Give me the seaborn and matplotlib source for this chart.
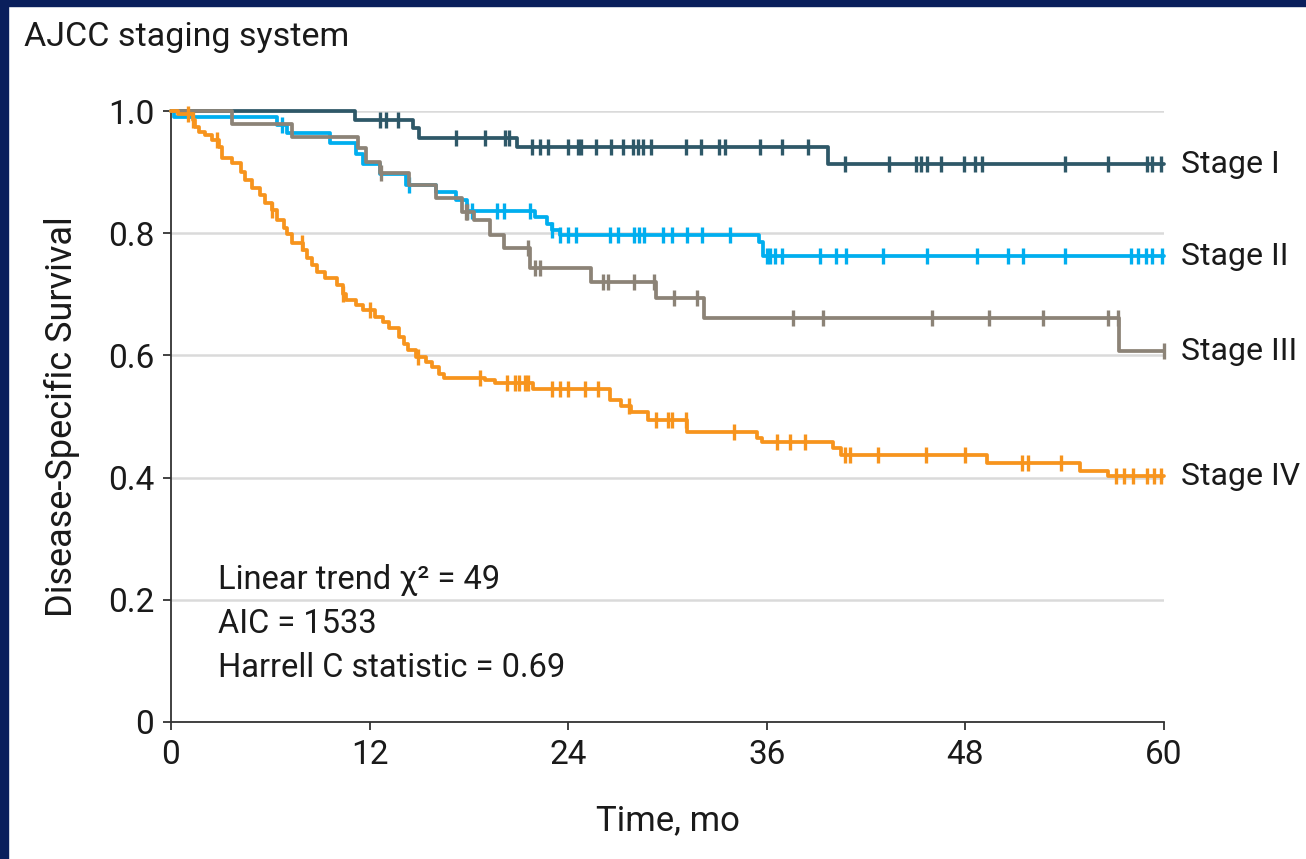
import numpy as np
import pandas as pd
import seaborn as sns
import matplotlib.pyplot as plt
from matplotlib.patches import Rectangle

# event times (months) and survival after each drop
stage1_t = [0, 11.1, 14.6, 15.0, 20.9, 39.7, 60]
stage1_s = [1.0, 0.986, 0.972, 0.955, 0.941, 0.913, 0.913]
stage1_cens = [12.6, 13.0, 13.7, 17.2, 19.0, 20.2, 20.4, 21.8, 22.3, 22.8, 24.0, 24.6, 24.8,
               25.7, 26.6, 27.3, 27.9, 28.2, 28.5, 29.0, 31.1, 32.0, 33.1, 33.5, 35.6, 36.9,
               38.5, 40.7, 43.4, 45.0, 45.3, 45.7, 46.5, 47.9, 48.6, 49.0, 54.0, 56.6, 59.0,
               59.3, 59.8]

stage2_t = [0, 0.2, 6.4, 7.0, 9.6, 11.2, 11.6, 12.6, 14.2, 16.0, 17.2, 17.9, 22.0, 22.7,
            23.0, 23.5, 35.5, 35.8, 60]
stage2_s = [1.0, 0.990, 0.977, 0.964, 0.948, 0.930, 0.913, 0.897, 0.879, 0.867, 0.854,
            0.836, 0.826, 0.815, 0.805, 0.797, 0.785, 0.762, 0.762]
stage2_cens = [6.7, 14.4, 17.9, 18.2, 19.7, 20.1, 21.7, 23.0, 23.5, 24.0, 24.5, 26.5, 27.0,
               28.0, 28.3, 28.6, 29.7, 30.3, 31.2, 32.1, 33.8, 36.0, 36.2, 36.5, 36.9, 39.2,
               40.2, 40.8, 43.0, 45.7, 48.7, 50.6, 51.5, 54.0, 58.0, 58.4, 58.9, 59.3, 59.9]

stage3_t = [0, 3.7, 7.3, 11.3, 11.8, 12.6, 14.4, 16.0, 17.6, 18.3, 19.3, 20.1, 21.7, 25.4,
            29.3, 32.2, 57.3, 60]
stage3_s = [1.0, 0.978, 0.958, 0.939, 0.916, 0.898, 0.879, 0.858, 0.835, 0.822, 0.797,
            0.776, 0.743, 0.720, 0.694, 0.661, 0.607, 0.607]
stage3_cens = [12.7, 17.8, 17.9, 21.6, 22.0, 22.3, 26.1, 26.4, 28.0, 29.2, 30.4, 31.8, 37.6,
               39.4, 46.0, 49.4, 52.7, 56.6, 57.2, 60.0]

stage4_t = [0, 0.4, 1.3, 1.45, 1.7, 2.05, 2.5, 2.9, 3.1, 3.7, 4.2, 4.5, 4.9, 5.4, 5.7, 6.1,
            6.4, 6.8, 7.0, 7.3, 8.0, 8.2, 8.5, 8.8, 9.3, 10.0, 10.4, 10.6, 11.2, 11.6, 12.3,
            12.8, 13.2, 13.8, 14.1, 14.3, 14.8, 15.4, 15.8, 16.2, 16.5, 19.0, 19.6, 21.9,
            26.5, 27.2, 27.8, 28.8, 31.2, 35.4, 35.7, 40.0, 40.5, 49.3, 54.9, 56.6, 60]
stage4_s = [1.0, 0.995, 0.985, 0.974, 0.966, 0.961, 0.953, 0.941, 0.923, 0.915, 0.900,
            0.887, 0.874, 0.862, 0.850, 0.838, 0.822, 0.809, 0.798, 0.784, 0.772, 0.760,
            0.748, 0.737, 0.727, 0.715, 0.700, 0.690, 0.682, 0.674, 0.663, 0.654, 0.645,
            0.630, 0.618, 0.609, 0.597, 0.590, 0.581, 0.570, 0.563, 0.559, 0.555, 0.545,
            0.527, 0.518, 0.507, 0.494, 0.475, 0.465, 0.458, 0.448, 0.437, 0.424, 0.411,
            0.402, 0.402]
stage4_cens = [1.0, 1.3, 2.8, 6.1, 7.9, 10.4, 12.0, 14.9, 18.7, 20.3, 20.8, 21.0, 21.4, 21.6,
               23.0, 23.5, 24.0, 25.0, 25.8, 27.7, 29.3, 30.0, 30.3, 31.1, 34.0, 36.6, 37.4,
               38.3, 40.7, 41.0, 42.7, 45.6, 48.0, 51.4, 51.8, 53.8, 57.1, 57.6, 58.1, 59.0,
               59.4, 59.8]

stage_names = ['Stage I', 'Stage II', 'Stage III', 'Stage IV']
stage_colors = ['#2E5868', '#00AEEF', '#8C8377', '#F7941D']
stats_lines = ['Linear trend χ² = 49', 'AIC = 1533', 'Harrell C statistic = 0.69']

sns.set_theme(style='white')
plt.rcParams['font.family'] = ['Roboto', 'DejaVu Sans']

fig = plt.figure(figsize=(13.06, 8.59), dpi=100)
# navy slide frame along the top and left edge
fig.patches.append(Rectangle((0, 1 - 6 / 859), 1, 6 / 859, transform=fig.transFigure,
                             color='#0A1F5C', zorder=10))
fig.patches.append(Rectangle((0, 0), 8 / 1306, 1, transform=fig.transFigure,
                             color='#0A1F5C', zorder=10))

ax = fig.add_axes([171 / 1306, 137 / 859, 993 / 1306, 611 / 859])

curves = [(stage1_t, stage1_s, stage1_cens), (stage2_t, stage2_s, stage2_cens),
          (stage3_t, stage3_s, stage3_cens), (stage4_t, stage4_s, stage4_cens)]

for (t, s, cens), name, col in zip(curves, stage_names, stage_colors):
    df = pd.DataFrame({'t': t, 's': s})
    sns.lineplot(data=df, x='t', y='s', ax=ax, color=col, lw=2.7, estimator=None,
                 drawstyle='steps-post', clip_on=False, zorder=3)
    idx = np.searchsorted(np.array(t), np.array(cens), side='right') - 1
    cdf = pd.DataFrame({'t': cens, 's': np.array(s)[idx]})
    sns.scatterplot(data=cdf, x='t', y='s', ax=ax, color=col, marker='|', s=140,
                    linewidth=2.4, clip_on=False, zorder=3)
    ax.text(61, s[-1], name, va='center', ha='left', fontsize=23, color='#1a1a1a')

ax.set_xlim(0, 60)
ax.set_ylim(0, 1.0)
ax.set_xticks([0, 12, 24, 36, 48, 60])
ax.set_yticks([0, 0.2, 0.4, 0.6, 0.8, 1.0])
ax.set_yticklabels(['0', '0.2', '0.4', '0.6', '0.8', '1.0'])
ax.yaxis.grid(True, color='#DADADA', lw=1.8)
ax.set_axisbelow(True)
sns.despine(ax=ax)
for sp in ['left', 'bottom']:
    ax.spines[sp].set_color('#333333')
    ax.spines[sp].set_linewidth(1.3)
ax.tick_params(axis='both', direction='out', length=6, width=1.3, color='#333333',
               labelsize=24, labelcolor='#1a1a1a', pad=6, left=True, bottom=True)
ax.set_xlabel('Time, mo', fontsize=25, color='#1a1a1a', labelpad=24)
ax.set_ylabel('Disease-Specific Survival', fontsize=26, color='#1a1a1a', labelpad=20)

for i, line in enumerate(stats_lines):
    ax.text(2.85, 0.233 - i * 0.072, line, fontsize=23.5, color='#1a1a1a', va='center')

fig.text(24 / 1306, 1 - 37 / 859, 'AJCC staging system', fontsize=24.5, color='#1a1a1a',
         va='center', ha='left')

plt.savefig('out.png', dpi=100)
